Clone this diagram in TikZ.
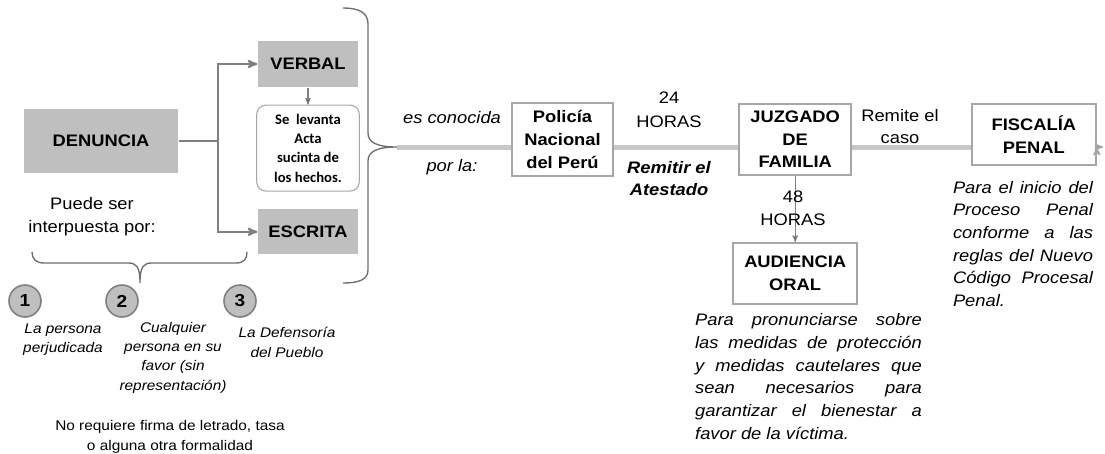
\documentclass[tikz,border=0pt]{standalone}
\usepackage{fontspec}
\setmainfont{Liberation Sans}[FakeStretch=1.1]
\newfontfamily\calibri{Carlito}
\usetikzlibrary{arrows,positioning}

\definecolor{boxgray}{HTML}{BFBFBF}
\definecolor{linegray}{HTML}{808080}
\definecolor{framegray}{HTML}{A6A6A6}
\definecolor{bargray}{HTML}{C8C8C8}

\begin{document}
\begin{tikzpicture}[x=0.75pt,y=-0.75pt,>=stealth',thick,
  gray node/.style={rectangle,fill=boxgray,inner sep=0pt,font=\fontsize{12.5}{17}\selectfont\bfseries},
  white node/.style={rectangle,draw=framegray,line width=1.5pt,fill=white,inner sep=0pt,align=center,
    font=\fontsize{12.5}{17}\selectfont\bfseries},
  num node/.style={circle,draw=linegray,line width=1.2pt,fill=boxgray,minimum size=24pt,inner sep=0pt,
    font=\fontsize{13}{13}\selectfont\bfseries},
  small text/.style={align=center,font=\fontsize{10.5}{14.5}\selectfont\itshape},
  side text/.style={align=center,font=\fontsize{12.5}{17}\selectfont},
  note text/.style={align=justify,font=\fontsize{12.5}{17}\selectfont\itshape},
  arrow line/.style={->,draw=linegray,line width=1.5pt},
  thin arrow/.style={->,draw=linegray,line width=0.8pt},
  bar line/.style={draw=bargray,line width=3.75pt},
  brace line/.style={draw=linegray!85!black,line width=1pt}]
\useasboundingbox (0,0) rectangle (1105,453);

\node[gray node,minimum width=115.5pt,minimum height=48pt] (den) at (101,141) {DENUNCIA};
\node[gray node,minimum width=75pt,minimum height=34.5pt] (verbal) at (308,64) {VERBAL};
\node[white node,rounded corners=7pt,line width=0.8pt,minimum width=77pt,minimum height=64.5pt,
  font=\calibri\fontsize{11}{14.5}\selectfont\bfseries] (acta) [below=12.75pt of verbal]
  {Se~~levanta\\Acta\\sucinta de\\los hechos.};
\node[gray node,minimum width=75pt,minimum height=34pt] (escrita) [below=12.75pt of acta] {ESCRITA};

\coordinate (split) at (218,141);
\draw[arrow line] (den) -- (split) |- (verbal);
\draw[arrow line] (den) -- (split) |- (escrita);

\node[side text] (puede) at (92,216.5) {Puede ser\\interpuesta por:};
\draw[brace line] (32,252) .. controls (32,259) and (36,263) .. (44,263)
  -- (128,263) .. controls (136,263) and (140,266) .. (140,283)
  .. controls (140,266) and (144,263) .. (152,263)
  -- (236,263) .. controls (244,263) and (247,259) .. (247,252);

\node[num node] (n1) at (25,301) {1};
\node[num node] (n2) at (122,301) {2};
\node[num node] (n3) at (240,301) {3};
\node[small text] (t1) at (63,339.5) {La persona\\perjudicada};
\node[small text] (t2) at (173,357.5) {Cualquier\\persona en su\\favor (sin\\representación)};
\node[small text] (t3) at (287,342.5) {La Defensoría\\del Pueblo};
\node[small text,font=\fontsize{10.5}{15}\selectfont] (req) at (170,437)
  {No requiere firma de letrado, tasa\\o alguna otra formalidad};

\coordinate (tip) at (397,147);
\draw[brace line] (343,8) .. controls (358,8) and (368,12) .. (368,24)
  -- (368,133) .. controls (368,142) and (376,147) .. (tip)
  .. controls (376,147) and (368,152) .. (368,161)
  -- (368,270) .. controls (368,280) and (358,283) .. (343,283);

\node[white node,minimum width=76pt,minimum height=55pt] (pnp) at (562.5,139.5) {Policía\\Nacional\\del Perú};
\node[white node,minimum width=84pt,minimum height=53pt] (jdf) [right=93pt of pnp] {JUZGADO\\DE\\FAMILIA};
\node[white node,minimum width=93pt,minimum height=46pt] (fis) [right=89pt of jdf,yshift=3.75pt] {FISCALÍA\\PENAL};
\node[white node,minimum width=93pt,minimum height=46pt] (aud) [below=49.5pt of jdf] {AUDIENCIA\\ORAL};
\coordinate (out) at (1103,147);

\path[bar line] (tip) edge (tip -| pnp.west)
  (tip -| pnp.east) edge (tip -| jdf.west)
  (tip -| jdf.east) edge (tip -| fis.west);
\path[thin arrow] (verbal) edge (acta)
  (jdf) edge (aud);
\path[->,draw=framegray,line width=1.2pt] (tip -| fis.east) edge (out);

\node[side text,font=\fontsize{12.5}{17}\selectfont\itshape] (con1) at (452,118) {es conocida};
\node[side text,font=\fontsize{12.5}{17}\selectfont\itshape] (con2) at (452,167) {por la:};
\node[side text,font=\fontsize{12.5}{18}\selectfont] (h24) at (669,110) {24\\HORAS};
\node[side text,font=\fontsize{12.5}{17}\selectfont\bfseries\itshape] (rem) at (669,178.5) {Remitir el\\Atestado};
\node[side text] (caso) at (900,126.5) {Remite el\\caso};
\node[side text] (h48) at (793,208.5) {48\\HORAS};

\node[note text,text width=105pt] (fisnote) at (1023,244)
  {Para el inicio del\linebreak Proceso Penal\linebreak conforme a las\linebreak
   reglas del Nuevo\linebreak Código Procesal\linebreak Penal.};
\node[note text,text width=170pt] (audnote) at (808.5,376.5)
  {Para pronunciarse sobre\linebreak las medidas de protección\linebreak
   y medidas cautelares que\linebreak sean necesarios para\linebreak
   garantizar el bienestar a\linebreak favor de la víctima.};
\end{tikzpicture}
\end{document}
